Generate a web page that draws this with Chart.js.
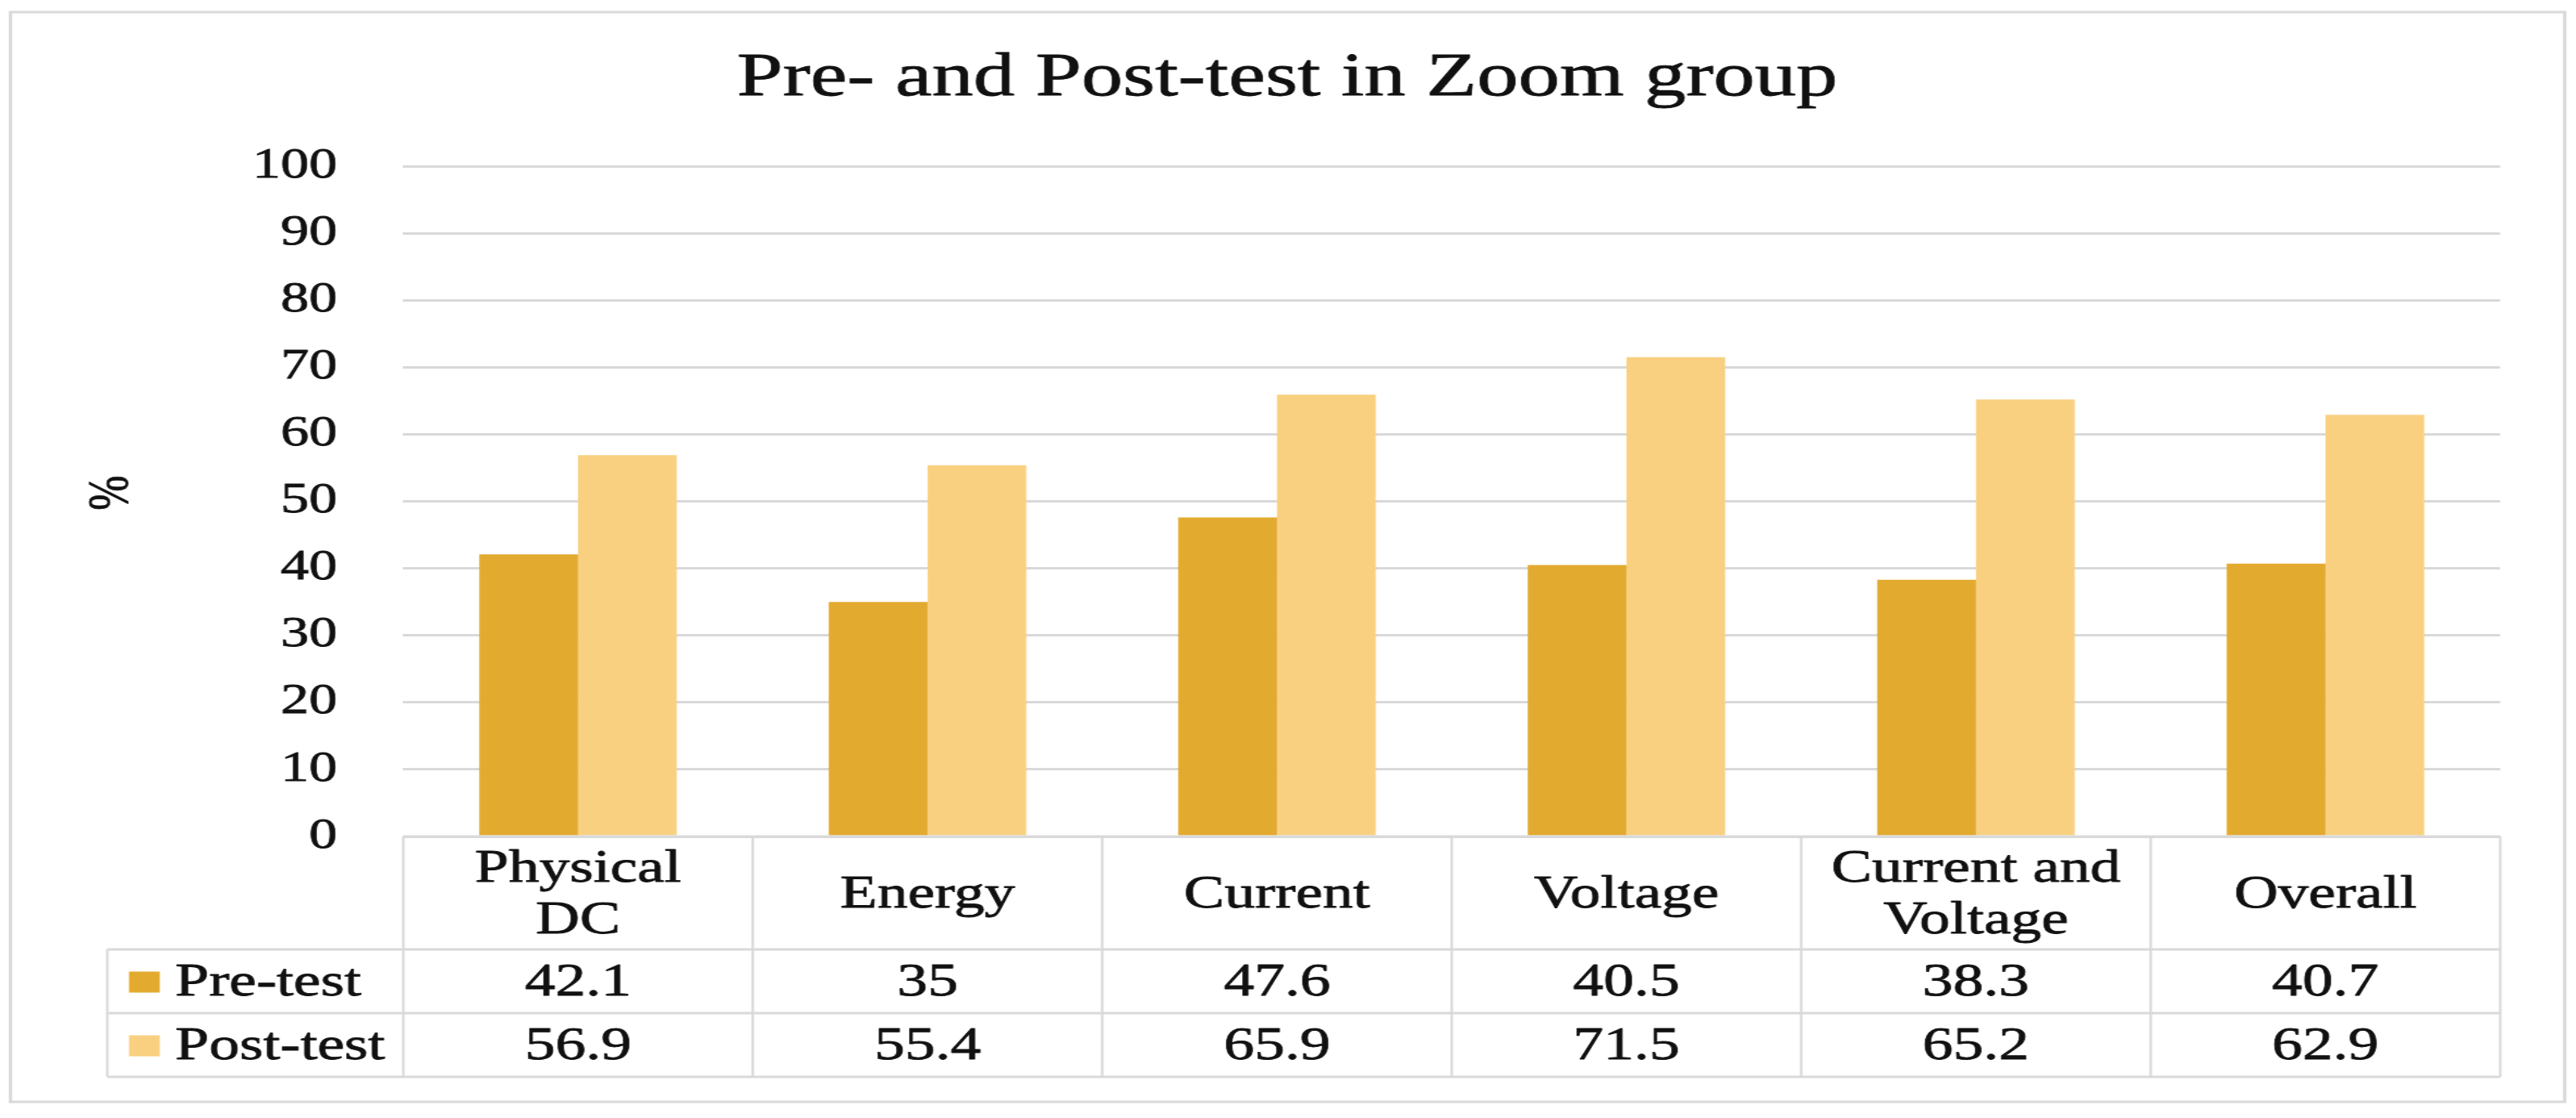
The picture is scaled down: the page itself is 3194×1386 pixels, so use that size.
<!DOCTYPE html>
<html><head><meta charset="utf-8">
<script src="https://cdn.jsdelivr.net/npm/chart.js@4/dist/chart.umd.min.js"></script>
<style>
html,body{margin:0;padding:0;background:#fff;overflow:hidden}
#wrap{position:absolute;left:0;top:0;width:2366px;height:1386px;transform:scaleX(1.349958);transform-origin:0 0}
</style></head>
<body><div id="wrap"><canvas id="c" width="2366" height="1386"></canvas></div>
<script>
const chartTitle = "Pre- and Post-test in Zoom group";
const categories = [["Physical", "DC"], ["Energy"], ["Current"], ["Voltage"], ["Current and", "Voltage"], ["Overall"]];
const seriesNames = ["Pre-test", "Post-test"];
const preTest = [42.1, 35, 47.6, 40.5, 38.3, 40.7];
const postTest = [56.9, 55.4, 65.9, 71.5, 65.2, 62.9];
const yTicks = [0, 10, 20, 30, 40, 50, 60, 70, 80, 90, 100];
const yAxisTitle = "%";

const S = 3194 / 2366;           // horizontal stretch of the reference
const X = v => v / S;            // final-page x -> canvas x
const FONT = '"Liberation Serif", "Times New Roman", serif';
const colors = ["#E2AA2F", "#F9D080"];
const lineCol = "#d9d9d9";
const TEXT = "#111";
const STROKE_W = 0.8;

function txt(ctx, t, x, y) {
  ctx.fillText(t, x, y);
  ctx.strokeText(t, x, y);
}

const tablePlugin = {
  id: "tablePlugin",
  afterDraw(chart) {
    const ctx = chart.ctx;
    const xs = chart.scales.x, ys = chart.scales.y;
    const n = categories.length;
    const left = chart.chartArea.left, right = chart.chartArea.right;
    const colW = (right - left) / n;
    const yTop = ys.getPixelForValue(0);
    const hdrB = yTop + 140, r1B = yTop + 219, r2B = yTop + 298;
    const legL = X(133);
    ctx.save();
    // outer border
    ctx.strokeStyle = lineCol; ctx.lineWidth = 3;
    ctx.strokeRect(X(13), 15, X(3180) - X(13), 1366 - 15);
    // table lines
    ctx.beginPath();
    ctx.moveTo(left, yTop); ctx.lineTo(right, yTop);
    [hdrB, r1B, r2B].forEach(y => { ctx.moveTo(legL, y); ctx.lineTo(right, y); });
    ctx.stroke();
    ctx.lineWidth = 2.3;
    ctx.beginPath();
    for (let i = 0; i <= n; i++) {
      const x = left + i * colW;
      ctx.moveTo(x, yTop); ctx.lineTo(x, r2B);
    }
    ctx.moveTo(legL, hdrB); ctx.lineTo(legL, r2B);
    ctx.stroke();

    ctx.fillStyle = TEXT; ctx.strokeStyle = TEXT; ctx.lineWidth = STROKE_W; ctx.lineJoin = "round";
    // title
    ctx.font = "76px " + FONT;
    ctx.textAlign = "center"; ctx.textBaseline = "alphabetic";
    txt(ctx, chartTitle, X(1596), 118);
    // y axis title
    ctx.save();
    ctx.translate(X(139), 611);
    ctx.rotate(-Math.PI / 2);
    ctx.font = "52px " + FONT;
    ctx.textBaseline = "middle";
    txt(ctx, yAxisTitle, 0, 0);
    ctx.restore();
    // category labels
    ctx.font = "56px " + FONT;
    ctx.textAlign = "center"; ctx.textBaseline = "middle";
    const hdrMid = (yTop + hdrB) / 2 + 3;
    categories.forEach((lines, i) => {
      const cx = xs.getPixelForValue(i);
      const lh = 64;
      const y0 = hdrMid - (lines.length - 1) * lh / 2;
      lines.forEach((t, k) => txt(ctx, t, cx, y0 + k * lh));
    });
    // values
    const rows = [preTest, postTest];
    const mids = [(hdrB + r1B) / 2 + 3, (r1B + r2B) / 2 + 3];
    rows.forEach((vals, r) => {
      vals.forEach((v, i) => txt(ctx, String(v), xs.getPixelForValue(i), mids[r]));
    });
    // legend keys
    ctx.textAlign = "left";
    seriesNames.forEach((name, r) => {
      ctx.fillStyle = colors[r];
      ctx.fillRect(X(160), mids[r] - 15, X(198) - X(160), 26);
      ctx.fillStyle = TEXT;
      txt(ctx, name, X(217), mids[r]);
    });
    ctx.restore();
  }
};

new Chart(document.getElementById("c"), {
  type: "bar",
  data: {
    labels: categories.map(c => c.join(" ")),
    datasets: [
      { label: seriesNames[0], data: preTest, backgroundColor: colors[0], borderWidth: 0,
        categoryPercentage: 0.565, barPercentage: 1.0 },
      { label: seriesNames[1], data: postTest, backgroundColor: colors[1], borderWidth: 0,
        categoryPercentage: 0.565, barPercentage: 1.0 }
    ]
  },
  options: {
    responsive: false, animation: false, devicePixelRatio: 1,
    layout: { padding: { left: 0, right: 2366 - X(3100), top: 206, bottom: 1386 - 1037 } },
    plugins: { legend: { display: false }, title: { display: false }, tooltip: { enabled: false } },
    scales: {
      x: { display: false },
      y: {
        min: 0, max: 100,
        afterBuildTicks: s => { s.ticks = yTicks.map(v => ({ value: v })); },
        afterFit: s => { s.width = X(500); s.paddingTop = 0; s.paddingBottom = 0; },
        ticks: { padding: X(500) - X(418), color: TEXT, textStrokeColor: TEXT, textStrokeWidth: STROKE_W,
                 font: { family: FONT, size: 52 } },
        grid: { color: lineCol, lineWidth: 3, drawTicks: false, tickLength: 0 },
        border: { display: false }
      }
    }
  },
  plugins: [tablePlugin]
});
</script>
</body></html>
